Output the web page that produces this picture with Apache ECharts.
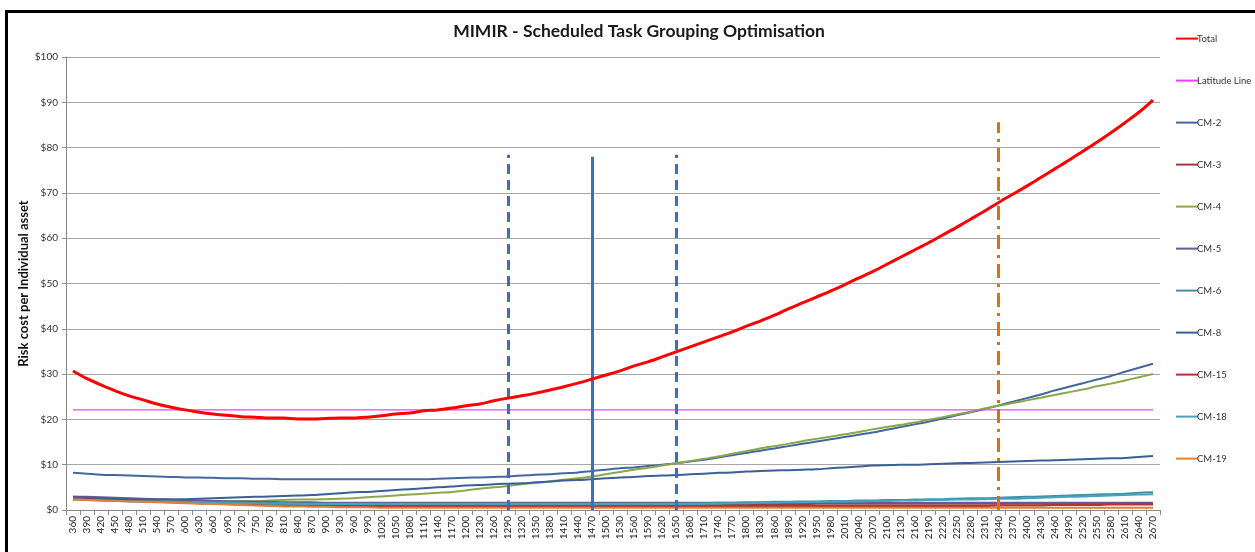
<!DOCTYPE html>
<html>
<head>
<meta charset="utf-8">
<script src="https://cdn.jsdelivr.net/npm/echarts@6/dist/echarts.min.js"></script>
<style>
    html, body { margin: 0; padding: 0; background: #fff; overflow: hidden; }
    #main { position: absolute; left: 0; top: 0; width: 1255px; height: 552px; }
    #frame { position: absolute; left: 5px; top: 10px; width: 1400px; height: 700px; border: 3px solid #000; pointer-events: none; }
</style>
</head>
<body>
<div id="main"></div>
<div id="frame"></div>
<script>
const categories = [
    '360', '390', '420', '450', '480', '510', '540', '570', '600', '630',
    '660', '690', '720', '750', '780', '810', '840', '870', '900', '930',
    '960', '990', '1020', '1050', '1080', '1110', '1140', '1170', '1200', '1230',
    '1260', '1290', '1320', '1350', '1380', '1410', '1440', '1470', '1500', '1530',
    '1560', '1590', '1620', '1650', '1680', '1710', '1740', '1770', '1800', '1830',
    '1860', '1890', '1920', '1950', '1980', '2010', '2040', '2070', '2100', '2130',
    '2160', '2190', '2220', '2250', '2280', '2310', '2340', '2370', '2400', '2430',
    '2460', '2490', '2520', '2550', '2580', '2610', '2640', '2670'
];

const total = [
    30.7, 29.0, 27.6, 26.3, 25.2, 24.3, 23.4, 22.7, 22.1, 21.6,
    21.2, 20.9, 20.6, 20.5, 20.3, 20.3, 20.1, 20.1, 20.2, 20.3,
    20.3, 20.5, 20.8, 21.2, 21.4, 21.9, 22.1, 22.5, 23.0, 23.4,
    24.1, 24.7, 25.2, 25.8, 26.5, 27.2, 28.0, 28.9, 29.8, 30.7,
    31.8, 32.7, 33.8, 34.9, 36.0, 37.1, 38.2, 39.3, 40.6, 41.7,
    43.0, 44.4, 45.7, 47.0, 48.3, 49.7, 51.2, 52.6, 54.2, 55.8,
    57.4, 59.0, 60.7, 62.4, 64.2, 66.0, 67.9, 69.7, 71.5, 73.4,
    75.3, 77.2, 79.2, 81.2, 83.3, 85.5, 87.8, 90.5
];

const latitude = [
    22.1, 22.1, 22.1, 22.1, 22.1, 22.1, 22.1, 22.1, 22.1, 22.1,
    22.1, 22.1, 22.1, 22.1, 22.1, 22.1, 22.1, 22.1, 22.1, 22.1,
    22.1, 22.1, 22.1, 22.1, 22.1, 22.1, 22.1, 22.1, 22.1, 22.1,
    22.1, 22.1, 22.1, 22.1, 22.1, 22.1, 22.1, 22.1, 22.1, 22.1,
    22.1, 22.1, 22.1, 22.1, 22.1, 22.1, 22.1, 22.1, 22.1, 22.1,
    22.1, 22.1, 22.1, 22.1, 22.1, 22.1, 22.1, 22.1, 22.1, 22.1,
    22.1, 22.1, 22.1, 22.1, 22.1, 22.1, 22.1, 22.1, 22.1, 22.1,
    22.1, 22.1, 22.1, 22.1, 22.1, 22.1, 22.1, 22.1
];

const cm2 = [
    8.2, 8.0, 7.8, 7.7, 7.6, 7.5, 7.4, 7.3, 7.2, 7.2,
    7.1, 7.0, 7.0, 6.9, 6.9, 6.8, 6.8, 6.8, 6.8, 6.8,
    6.8, 6.8, 6.8, 6.8, 6.8, 6.8, 6.9, 7.0, 7.1, 7.2,
    7.3, 7.4, 7.6, 7.8, 7.9, 8.1, 8.3, 8.6, 8.9, 9.2,
    9.4, 9.7, 10.0, 10.3, 10.7, 11.1, 11.6, 12.1, 12.6, 13.1,
    13.6, 14.1, 14.6, 15.1, 15.6, 16.1, 16.6, 17.1, 17.7, 18.3,
    18.9, 19.5, 20.2, 20.9, 21.6, 22.3, 23.1, 23.9, 24.7, 25.5,
    26.4, 27.2, 28.0, 28.8, 29.6, 30.5, 31.4, 32.3
];

const cm3 = [
    2.6, 2.5, 2.4, 2.3, 2.2, 2.1, 2.0, 1.9, 1.8, 1.8,
    1.7, 1.7, 1.6, 1.6, 1.5, 1.5, 1.5, 1.4, 1.4, 1.4,
    1.4, 1.3, 1.3, 1.3, 1.3, 1.3, 1.3, 1.3, 1.3, 1.3,
    1.3, 1.3, 1.3, 1.3, 1.3, 1.3, 1.3, 1.3, 1.3, 1.3,
    1.3, 1.3, 1.3, 1.3, 1.3, 1.3, 1.3, 1.3, 1.3, 1.3,
    1.3, 1.3, 1.3, 1.4, 1.4, 1.4, 1.4, 1.4, 1.4, 1.4,
    1.4, 1.4, 1.4, 1.4, 1.4, 1.4, 1.4, 1.4, 1.4, 1.4,
    1.3, 1.3, 1.3, 1.3, 1.3, 1.3, 1.3, 1.3
];

const cm4 = [
    2.5, 2.5, 2.4, 2.3, 2.2, 2.2, 2.1, 2.1, 2.0, 2.0,
    2.0, 2.0, 2.0, 2.0, 2.1, 2.2, 2.3, 2.3, 2.4, 2.5,
    2.6, 2.8, 3.0, 3.2, 3.4, 3.6, 3.8, 4.0, 4.3, 4.7,
    5.0, 5.3, 5.7, 6.0, 6.3, 6.7, 7.0, 7.4, 7.9, 8.4,
    8.9, 9.3, 9.8, 10.3, 10.8, 11.3, 11.8, 12.4, 13.0, 13.6,
    14.1, 14.6, 15.2, 15.7, 16.2, 16.7, 17.2, 17.8, 18.3, 18.8,
    19.3, 19.9, 20.5, 21.1, 21.7, 22.4, 23.0, 23.6, 24.2, 24.8,
    25.4, 26.0, 26.6, 27.3, 27.9, 28.6, 29.3, 30.0
];

const cm5 = [
    3.0, 2.9, 2.8, 2.7, 2.6, 2.5, 2.4, 2.3, 2.2, 2.1,
    2.0, 1.9, 1.9, 1.8, 1.8, 1.7, 1.7, 1.7, 1.6, 1.6,
    1.6, 1.6, 1.6, 1.6, 1.6, 1.6, 1.6, 1.6, 1.6, 1.6,
    1.6, 1.6, 1.6, 1.6, 1.6, 1.6, 1.6, 1.6, 1.6, 1.6,
    1.6, 1.6, 1.6, 1.6, 1.6, 1.6, 1.6, 1.6, 1.6, 1.6,
    1.6, 1.6, 1.6, 1.6, 1.6, 1.6, 1.6, 1.6, 1.6, 1.6,
    1.6, 1.6, 1.6, 1.6, 1.6, 1.6, 1.6, 1.6, 1.6, 1.6,
    1.6, 1.6, 1.6, 1.6, 1.6, 1.6, 1.6, 1.6
];

const cm6 = [
    2.5, 2.4, 2.3, 2.2, 2.1, 2.0, 1.9, 1.8, 1.8, 1.7,
    1.7, 1.6, 1.6, 1.5, 1.5, 1.5, 1.4, 1.4, 1.4, 1.4,
    1.4, 1.4, 1.4, 1.4, 1.4, 1.4, 1.4, 1.4, 1.4, 1.4,
    1.4, 1.4, 1.4, 1.4, 1.4, 1.4, 1.4, 1.4, 1.4, 1.4,
    1.4, 1.4, 1.4, 1.4, 1.5, 1.5, 1.6, 1.6, 1.7, 1.7,
    1.8, 1.8, 1.9, 1.9, 2.0, 2.0, 2.1, 2.1, 2.2, 2.2,
    2.3, 2.4, 2.4, 2.5, 2.6, 2.6, 2.7, 2.8, 2.9, 3.0,
    3.1, 3.2, 3.3, 3.4, 3.5, 3.6, 3.8, 3.9
];

const cm8 = [
    2.8, 2.7, 2.6, 2.5, 2.4, 2.3, 2.3, 2.3, 2.4, 2.5,
    2.6, 2.7, 2.8, 2.9, 3.0, 3.1, 3.2, 3.3, 3.5, 3.7,
    3.9, 4.0, 4.2, 4.4, 4.6, 4.8, 5.0, 5.2, 5.4, 5.5,
    5.7, 5.8, 5.9, 6.1, 6.3, 6.5, 6.6, 6.8, 7.0, 7.2,
    7.3, 7.5, 7.6, 7.7, 7.9, 8.0, 8.2, 8.3, 8.5, 8.6,
    8.7, 8.8, 8.9, 9.0, 9.2, 9.4, 9.6, 9.8, 9.9, 10.0,
    10.0, 10.1, 10.2, 10.3, 10.4, 10.5, 10.6, 10.7, 10.8, 10.9,
    11.0, 11.1, 11.2, 11.3, 11.4, 11.5, 11.7, 11.9
];

const cm15 = [
    2.4, 2.3, 2.2, 2.1, 2.0, 1.9, 1.8, 1.7, 1.6, 1.5,
    1.4, 1.3, 1.2, 1.2, 1.1, 1.1, 1.0, 1.0, 1.0, 0.9,
    0.9, 0.9, 0.9, 0.9, 0.9, 0.9, 0.9, 0.9, 0.9, 0.9,
    0.9, 0.9, 0.9, 0.9, 0.9, 0.9, 0.9, 0.9, 0.9, 0.9,
    0.9, 0.9, 0.9, 0.9, 0.9, 0.9, 0.9, 0.9, 0.9, 0.9,
    0.9, 0.9, 0.9, 0.9, 0.9, 0.9, 0.9, 0.9, 0.9, 0.9,
    0.9, 0.9, 0.9, 0.9, 0.9, 0.9, 1.0, 1.0, 1.0, 1.0,
    1.1, 1.1, 1.1, 1.1, 1.2, 1.2, 1.2, 1.2
];

const cm18 = [
    2.3, 2.2, 2.1, 2.0, 1.9, 1.9, 1.8, 1.8, 1.7, 1.7,
    1.6, 1.6, 1.5, 1.5, 1.4, 1.4, 1.4, 1.3, 1.3, 1.3,
    1.3, 1.3, 1.3, 1.3, 1.3, 1.3, 1.3, 1.3, 1.3, 1.3,
    1.3, 1.3, 1.3, 1.3, 1.3, 1.3, 1.3, 1.3, 1.3, 1.3,
    1.3, 1.3, 1.3, 1.3, 1.3, 1.4, 1.4, 1.5, 1.5, 1.6,
    1.6, 1.7, 1.7, 1.8, 1.8, 1.9, 1.9, 2.0, 2.0, 2.1,
    2.1, 2.2, 2.2, 2.3, 2.3, 2.4, 2.5, 2.5, 2.6, 2.7,
    2.8, 2.9, 3.0, 3.1, 3.2, 3.3, 3.4, 3.5
];

const cm19 = [
    2.3, 2.2, 2.1, 2.0, 1.9, 1.8, 1.7, 1.6, 1.5, 1.4,
    1.3, 1.2, 1.1, 1.0, 0.9, 0.8, 0.8, 0.7, 0.7, 0.6,
    0.6, 0.6, 0.5, 0.5, 0.5, 0.5, 0.5, 0.5, 0.5, 0.5,
    0.5, 0.5, 0.5, 0.5, 0.5, 0.5, 0.5, 0.5, 0.5, 0.5,
    0.5, 0.5, 0.5, 0.5, 0.5, 0.5, 0.5, 0.5, 0.5, 0.5,
    0.5, 0.5, 0.5, 0.5, 0.5, 0.5, 0.5, 0.5, 0.5, 0.5,
    0.5, 0.5, 0.5, 0.5, 0.5, 0.5, 0.5, 0.5, 0.5, 0.5,
    0.5, 0.5, 0.5, 0.5, 0.5, 0.5, 0.5, 0.5
];

// vertical marker lines: [category, top value]
const markerLow = ['1290', 78.4];
const markerMid = ['1470', 78.0];
const markerHigh = ['1650', 78.4];
const markerLatitude = ['2340', 85.6];

const font = 'Lato, "Open Sans", sans-serif';

const myChart = echarts.init(document.getElementById('main'));

const lineSeries = (name, data, color, width, z) => ({
    name: name,
    type: 'line',
    data: data,
    symbol: 'none',
    smooth: 0.3,
    z: z || 2,
    itemStyle: { color: color },
    lineStyle: { color: color, width: width }
});

const vLine = (marker, color, type, width) => [
    { coord: [marker[0], 0], lineStyle: { color: color, type: type, width: width } },
    { coord: [marker[0], marker[1]] }
];

const option = {
    animation: false,
    backgroundColor: '#fff',
    title: {
        text: 'MIMIR - Scheduled Task Grouping Optimisation',
        left: 634,
        top: 17,
        textAlign: 'center',
        textStyle: { fontFamily: font, fontSize: 17.5, fontWeight: 'bold', color: '#1a1a1a' }
    },
    legend: {
        orient: 'vertical',
        left: 1170,
        top: 28,
        itemWidth: 22,
        itemHeight: 14,
        itemGap: 30.8,
        itemStyle: { opacity: 0 },
        textStyle: { fontFamily: font, fontSize: 9.5, color: '#333', padding: [0, 0, 0, -6] },
        data: ['Total', 'Latitude Line', 'CM-2', 'CM-3', 'CM-4', 'CM-5', 'CM-6', 'CM-8', 'CM-15', 'CM-18', 'CM-19']
    },
    grid: {
        left: 66,
        right: 95,
        top: 57,
        bottom: 42
    },
    xAxis: {
        type: 'category',
        data: categories,
        boundaryGap: true,
        axisLine: { lineStyle: { color: '#8a8a8a', width: 1 } },
        axisTick: { show: true, length: 5, lineStyle: { color: '#8a8a8a' } },
        axisLabel: {
            interval: 0,
            rotate: 90,
            margin: 6,
            fontFamily: font,
            fontSize: 10,
            color: '#222'
        },
        splitLine: { show: false }
    },
    yAxis: {
        type: 'value',
        min: 0,
        max: 100,
        interval: 10,
        name: 'Risk cost per Individual asset',
        nameLocation: 'middle',
        nameGap: 36,
        nameMoveOverlap: false,
        nameTextStyle: { fontFamily: font, fontSize: 13, fontWeight: 'bold', color: '#111' },
        axisLine: { show: true, lineStyle: { color: '#8a8a8a' } },
        axisTick: { show: true, length: 4, lineStyle: { color: '#8a8a8a' } },
        axisLabel: {
            margin: 8,
            fontFamily: font,
            fontSize: 10,
            color: '#333',
            formatter: (v) => '$' + v
        },
        splitLine: { lineStyle: { color: '#a6a6a6', width: 1 } }
    },
    series: [
        lineSeries('CM-2', cm2, '#44679f', 2),
        lineSeries('CM-3', cm3, '#9c3b37', 2),
        lineSeries('CM-4', cm4, '#8aa84b', 2),
        lineSeries('CM-5', cm5, '#6a5a94', 2),
        lineSeries('CM-6', cm6, '#3f8ea6', 2),
        lineSeries('CM-8', cm8, '#3b5f98', 2),
        lineSeries('CM-15', cm15, '#b8302f', 2),
        lineSeries('CM-18', cm18, '#45a3bd', 2),
        lineSeries('CM-19', cm19, '#e07f35', 2),
        lineSeries('Latitude Line', latitude, '#f040f0', 1.3, 3),
        Object.assign(lineSeries('Total', total, '#ff0000', 3, 5), {
            markLine: {
                silent: true,
                symbol: ['none', 'none'],
                label: { show: false },
                data: [
                    vLine(markerLow, '#3f6fb0', [10, 6], 3),
                    vLine(markerMid, '#3f6fb0', 'solid', 3),
                    vLine(markerHigh, '#3f6fb0', [10, 6], 3),
                    vLine(markerLatitude, '#e46c0a', [14, 6, 3, 6], 3)
                ]
            }
        })
    ]
};

myChart.setOption(option);
</script>
</body>
</html>
